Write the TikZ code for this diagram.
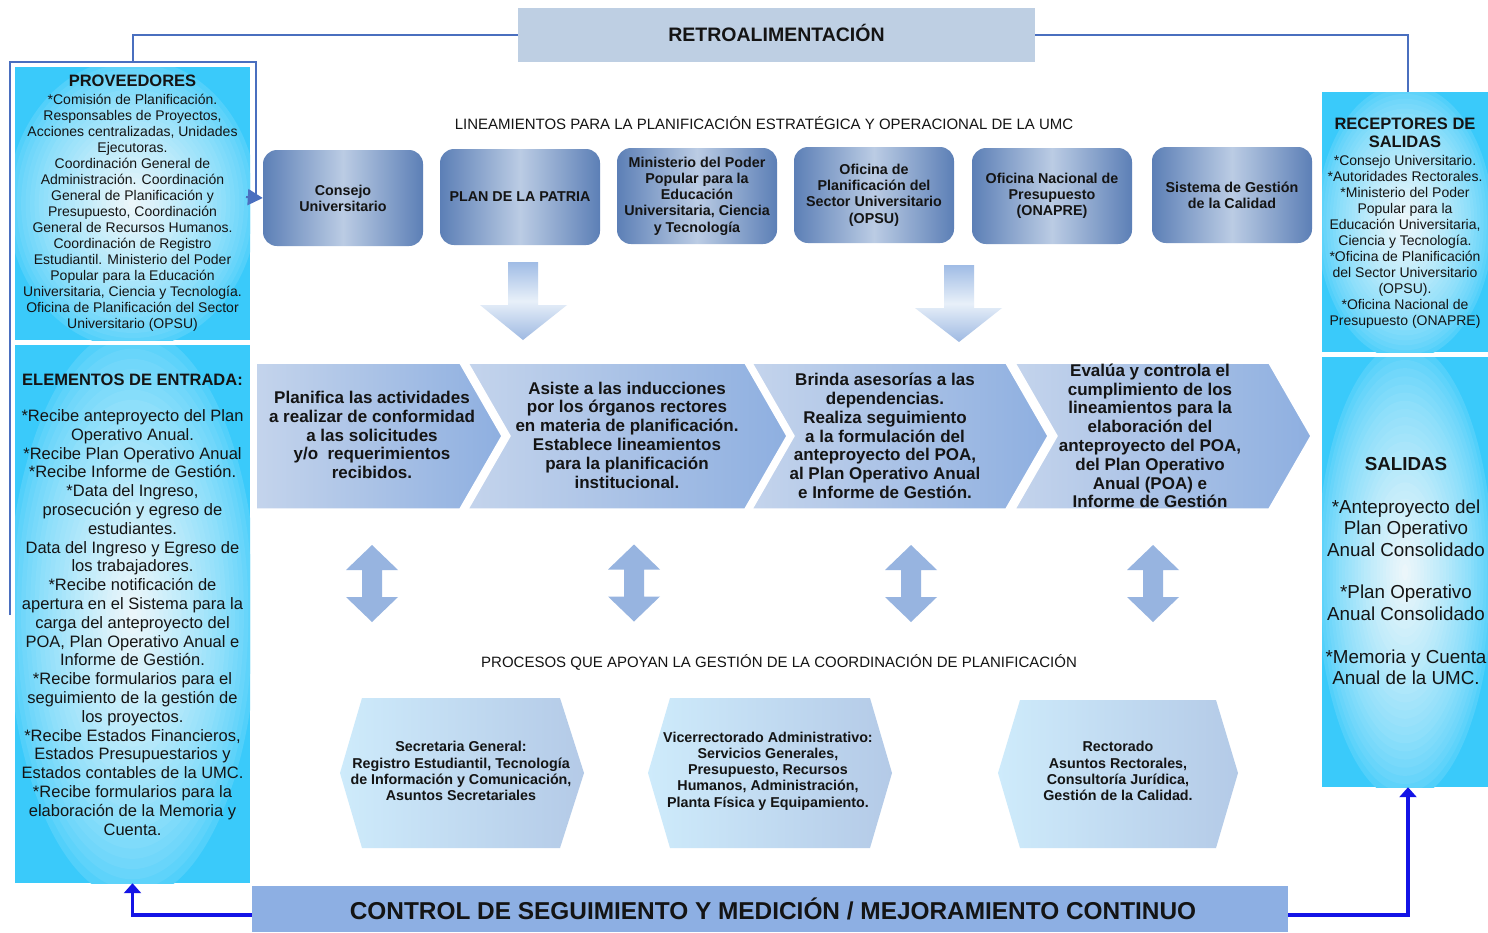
\documentclass[tikz,border=0pt]{standalone}
\usepackage{fontspec}
\setmainfont{Liberation Sans}
\usetikzlibrary{arrows.meta}
\makeatletter
\providecommand\tikzscope@linewidth{0.4pt}
\makeatother
\definecolor{cyanin}{RGB}{240,247,250}
\definecolor{cyanout}{RGB}{58,202,250}
\definecolor{tbedge}{RGB}{92,127,182}
\definecolor{tbmid}{RGB}{187,204,228}
\definecolor{retrofill}{RGB}{190,207,227}
\definecolor{chevL}{RGB}{196,212,236}
\definecolor{chevR}{RGB}{142,175,224}
\definecolor{hexL}{RGB}{206,235,251}
\definecolor{hexR}{RGB}{180,202,231}
\definecolor{dnT}{RGB}{160,188,229}
\definecolor{dnM}{RGB}{232,240,249}
\definecolor{dnB}{RGB}{158,185,226}
\definecolor{dblfill}{RGB}{151,180,224}
\definecolor{frameblue}{RGB}{74,111,191}
\definecolor{ctrlblue}{RGB}{20,20,230}
\definecolor{barfill}{RGB}{141,175,227}
\definecolor{txtc}{RGB}{20,20,20}
\newcommand\tfont{\bfseries\fontsize{16.5}{18}\selectfont}
\newcommand\bfont{\mdseries\fontsize{14}{16}\selectfont}
\newcommand\glowrect[4]{%
  \begin{scope}
  \clip (#1,#2) rectangle (#3,#4);
  \fill[cyanout] (#1,#2) rectangle (#3,#4);
  \pgfmathsetmacro\gcx{(#1+#3)/2}
  \pgfmathsetmacro\gcy{(#2+#4)/2}
  \pgfmathsetmacro\grx{(#3-#1)*0.55}
  \pgfmathsetmacro\gry{(#4-#2)*0.55}
  \foreach \i in {1,...,28}{
    \pgfmathsetmacro\gf{1-\i/29}
    \pgfmathtruncatemacro\gp{100*(\i/29)^0.6}
    \fill[cyanin!\gp!cyanout] (\gcx,\gcy) ellipse [x radius=\gf*\grx, y radius=\gf*\gry];
  }
  \end{scope}}
\begin{document}
\begin{tikzpicture}[x=1pt,y=-1pt,
  every node/.style={text=txtc},
  cyanbox/.style={inner sep=0pt, align=center},
  topbox/.style={rounded corners=14pt, left color=tbedge, right color=tbedge, middle color=tbmid, minimum width=160pt, minimum height=96pt, inner sep=0pt, align=center, font=\bfseries\fontsize{14.3}{16.2}\selectfont},
  chev/.style={left color=chevL, right color=chevR, draw=white, line width=1.5pt},
  chevtxt/.style={align=center, inner sep=0pt, font=\bfseries\fontsize{17}{18.8}\selectfont},
  hexa/.style={left color=hexL, right color=hexR},
  hextxt/.style={align=center, inner sep=0pt, font=\bfseries\fontsize{14.3}{16.2}\selectfont},
  dnarrow/.style={top color=dnT, bottom color=dnB, middle color=dnM},
  frameline/.style={draw=frameblue, line width=2pt},
  ctrlarrow/.style={draw=ctrlblue, line width=3.5pt, -{Triangle[width=17pt,length=10pt]}},
  headtxt/.style={inner sep=0pt, font=\fontsize{15}{17}\selectfont},
  dblarr/.pic={\fill[dblfill] (0,-38.5) -- (26,-13.5) -- (10,-13.5) -- (10,13.5) -- (26,13.5) -- (0,38.5) -- (-26,13.5) -- (-10,13.5) -- (-10,-13.5) -- (-26,-13.5) -- cycle;}
]
\useasboundingbox (0,0) rectangle (1488,932);
\fill[white] (0,0) rectangle (1488,932);

% Retroalimentacion
\node[fill=retrofill, minimum width=517pt, minimum height=54pt, inner sep=0pt] (retro) at (776.5,35) {};
\node[inner sep=0pt, font=\bfseries\fontsize{19.5}{22}\selectfont] (retrotxt) at (776.5,33) {RETROALIMENTACIÓN};

% glowing cyan boxes
\glowrect{15}{67}{250}{340}
\glowrect{15}{345}{250}{883}
\glowrect{1322}{92}{1488}{352}
\glowrect{1322}{357}{1488}{787}

% left column
\node[cyanbox, minimum width=235pt, minimum height=273pt] (prov) at (132.5,203.5) {};
\node[align=center, inner sep=0pt, anchor=north, font=\bfont] (provtxt) at (132.5,75) {\tfont PROVEEDORES\\[2pt]
\bfont *Comisión de Planificación.\\
Responsables de Proyectos,\\
Acciones centralizadas, Unidades\\
Ejecutoras.\\
Coordinación General de\\
Administración. Coordinación\\
General de Planificación y\\
Presupuesto, Coordinación\\
General de Recursos Humanos.\\
Coordinación de Registro\\
Estudiantil. Ministerio del Poder\\
Popular para la Educación\\
Universitaria, Ciencia y Tecnología.\\
Oficina de Planificación del Sector\\
Universitario (OPSU)};

\node[cyanbox, minimum width=235pt, minimum height=538pt] (elem) at (132.5,614) {};
\node[align=center, inner sep=0pt, anchor=north, font=\fontsize{16.5}{18.8}\selectfont] (elemtxt) at (132.5,374) {\bfseries ELEMENTOS DE ENTRADA:\\[17pt]
\mdseries *Recibe anteproyecto del Plan\\
Operativo Anual.\\
*Recibe Plan Operativo Anual\\
*Recibe Informe de Gestión.\\
*Data del Ingreso,\\
prosecución y egreso de\\
estudiantes.\\
Data del Ingreso y Egreso de\\
los trabajadores.\\
*Recibe notificación de\\
apertura en el Sistema para la\\
carga del anteproyecto del\\
POA, Plan Operativo Anual e\\
Informe de Gestión.\\
*Recibe formularios para el\\
seguimiento de la gestión de\\
los proyectos.\\
*Recibe Estados Financieros,\\
Estados Presupuestarios y\\
Estados contables de la UMC.\\
*Recibe formularios para la\\
elaboración de la Memoria y\\
Cuenta.};

% right column
\node[cyanbox, minimum width=166pt, minimum height=260pt] (recep) at (1405,222) {};
\node[align=center, inner sep=0pt, anchor=north, font=\bfont] (receptxt) at (1405,118) {\tfont RECEPTORES DE\\[2pt]
\tfont SALIDAS\\[2pt]
\bfont *Consejo Universitario.\\
*Autoridades Rectorales.\\
*Ministerio del Poder\\
Popular para la\\
Educación Universitaria,\\
Ciencia y Tecnología.\\
*Oficina de Planificación\\
del Sector Universitario\\
(OPSU).\\
*Oficina Nacional de\\
Presupuesto (ONAPRE)};

\node[cyanbox, minimum width=166pt, minimum height=430pt] (salidas) at (1405,572) {};
\node[align=center, inner sep=0pt, font=\fontsize{18.8}{21.4}\selectfont] (salidastxt) at (1406,571) {\bfseries SALIDAS\\[21.4pt]
\mdseries *Anteproyecto del\\
Plan Operativo\\
Anual Consolidado\\[21.4pt]
*Plan Operativo\\
Anual Consolidado\\[21.4pt]
*Memoria y Cuenta\\
Anual de la UMC.};

% heading
\node[headtxt] (lin) at (764,123) {LINEAMIENTOS PARA LA PLANIFICACIÓN ESTRATÉGICA Y OPERACIONAL DE LA UMC};

% top boxes
\node[topbox] (consejo) at (343,198) {Consejo\\Universitario};
\node[topbox] (patria) at (520,197) {PLAN DE LA PATRIA};
\node[topbox] (mppeu) at (697,196) {Ministerio del Poder\\Popular para la\\Educación\\Universitaria, Ciencia\\y Tecnología};
\node[topbox] (opsu) at (874,195) {Oficina de\\Planificación del\\Sector Universitario\\(OPSU)};
\node[topbox] (onapre) at (1052,196) {Oficina Nacional de\\Presupuesto\\(ONAPRE)};
\node[topbox] (sgc) at (1232,195) {Sistema de Gestión\\de la Calidad};

% down arrows
\path[dnarrow] (508,262) -- (538,262) -- (538,305) -- (567,305) -- (523,340) -- (480,305) -- (508,305) -- cycle;
\path[dnarrow] (944,265) -- (974,265) -- (974,308) -- (1002,308) -- (959,342) -- (915,308) -- (944,308) -- cycle;

% chevrons
\path[chev] (256,363) -- (460,363) -- (502,436) -- (460,509) -- (256,509) -- cycle;
\path[chev] (468,363) -- (745,363) -- (787,436) -- (745,509) -- (468,509) -- (510,436) -- cycle;
\path[chev] (752,363) -- (1006,363) -- (1048,436) -- (1006,509) -- (752,509) -- (794,436) -- cycle;
\path[chev] (1015,363) -- (1269,363) -- (1311,436) -- (1269,509) -- (1015,509) -- (1057,436) -- cycle;
\node[chevtxt] (c1) at (372,435) {Planifica las actividades\\a realizar de conformidad\\a las solicitudes\\y/o\ \ requerimientos\\recibidos.};
\node[chevtxt] (c2) at (627,435) {Asiste a las inducciones\\por los órganos rectores\\en materia de planificación.\\Establece lineamientos\\para la planificación\\institucional.};
\node[chevtxt] (c3) at (885,436) {Brinda asesorías a las\\dependencias.\\Realiza seguimiento\\a la formulación del\\anteproyecto del POA,\\al Plan Operativo Anual\\e Informe de Gestión.};
\node[chevtxt] (c4) at (1150,436) {Evalúa y controla el\\cumplimiento de los\\lineamientos para la\\elaboración del\\anteproyecto del POA,\\del Plan Operativo\\Anual (POA) e\\Informe de Gestión};

% double arrows
\pic at (372,583.5) {dblarr};
\pic at (634,583) {dblarr};
\pic at (911,583.5) {dblarr};
\pic at (1153,583.5) {dblarr};

\node[headtxt] (proc) at (779,662) {PROCESOS QUE APOYAN LA GESTIÓN DE LA COORDINACIÓN DE PLANIFICACIÓN};

% hexagons
\path[hexa] (340,773) -- (362,698) -- (560,698) -- (584,773) -- (560,848) -- (362,848) -- cycle;
\path[hexa] (648,773) -- (670,698) -- (870,698) -- (892,773) -- (870,848) -- (670,848) -- cycle;
\path[hexa] (998,773) -- (1020,700) -- (1216,700) -- (1238,773) -- (1216,848) -- (1020,848) -- cycle;
\node[hextxt] (h1) at (461,771) {Secretaria General:\\Registro Estudiantil, Tecnología\\de Información y Comunicación,\\Asuntos Secretariales};
\node[hextxt] (h2) at (768,771) {Vicerrectorado Administrativo:\\Servicios Generales,\\Presupuesto, Recursos\\Humanos, Administración,\\Planta Física y Equipamiento.};
\node[hextxt] (h3) at (1118,771) {Rectorado\\Asuntos Rectorales,\\Consultoría Jurídica,\\Gestión de la Calidad.};

% control bar
\node[fill=barfill, minimum width=1036pt, minimum height=46pt, inner sep=0pt] (ctrl) at (770,909) {};
\node[inner sep=0pt, font=\bfseries\fontsize{24.4}{28}\selectfont] (ctrltxt) at (773,909) {CONTROL DE SEGUIMIENTO Y MEDICIÓN / MEJORAMIENTO CONTINUO};

% connectors
\coordinate (ftop) at (133,62);
\coordinate (rtop) at (1408,92);
\draw[frameline] (retro.west) -| (ftop);
\draw[frameline] (10,615) -- (10,62) -- (256,62) -- (256,197);
\draw[draw=frameblue, line width=2pt, -{Triangle[width=16pt,length=15pt]}] (246,197) -- (consejo.west);
\draw[frameline] (retro.east) -| (rtop);
\draw[ctrlarrow] ([yshift=-6pt]ctrl.west) -| (elem.south);
\draw[ctrlarrow] ([yshift=-6pt]ctrl.east) -| ([xshift=3pt]salidas.south);
\end{tikzpicture}
\end{document}
